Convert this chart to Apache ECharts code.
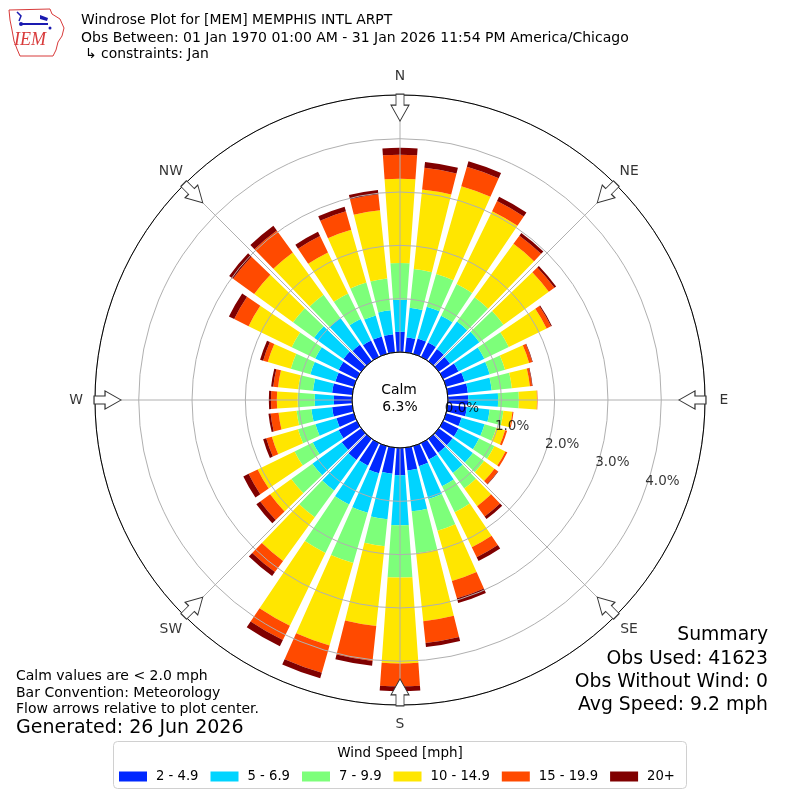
<!DOCTYPE html>
<html><head><meta charset="utf-8">
<script src="https://cdn.jsdelivr.net/npm/echarts@6/dist/echarts.min.js"></script>
<style>html,body{margin:0;padding:0;background:#fff}#c{width:800px;height:800px}</style>
</head><body><div id="c"></div>
<script>
// ---- data ----
const directions = ['0','10','20','30','40','50','60','70','80','90','100','110','120','130','140','150','160','170',
  '180','190','200','210','220','230','240','250','260','270','280','290','300','310','320','330','340','350'];
const speedBins = ['2 - 4.9','5 - 6.9','7 - 9.9','10 - 14.9','15 - 19.9','20+'];
// percent of observations per direction (N, 10°, 20°, ... 350°)
const bin2to4 = [0.38,0.28,0.30,0.30,0.28,0.26,0.32,0.36,0.38,0.38,0.36,0.30,0.32,0.32,0.32,0.34,0.39,0.43,
  0.51,0.49,0.53,0.47,0.49,0.45,0.38,0.34,0.38,0.34,0.38,0.36,0.38,0.41,0.38,0.34,0.34,0.34];
const bin5to6 = [0.60,0.56,0.62,0.56,0.64,0.68,0.54,0.49,0.45,0.56,0.43,0.45,0.43,0.47,0.47,0.56,0.64,0.77,
  0.94,0.86,0.77,0.81,0.71,0.68,0.54,0.41,0.39,0.36,0.36,0.49,0.49,0.68,0.62,0.45,0.41,0.45];
const bin7to9 = [0.69,0.73,0.64,0.66,0.56,0.56,0.51,0.30,0.38,0.39,0.26,0.23,0.32,0.26,0.36,0.54,0.62,0.79,
  0.98,0.51,0.98,1.01,0.62,0.49,0.38,0.34,0.28,0.32,0.28,0.38,0.49,0.49,0.54,0.53,0.64,0.60];
const bin10to14 = [1.58,1.50,1.71,1.52,1.24,1.05,0.79,0.47,0.34,0.34,0.17,0.17,0.23,0.24,0.41,0.73,0.98,1.28,
  1.61,1.50,1.61,1.52,1.01,0.49,0.77,0.51,0.34,0.39,0.38,0.45,0.90,0.90,0.98,0.86,1.03,1.29];
const bin15to19 = [0.45,0.41,0.38,0.21,0.19,0.13,0.09,0.06,0.04,0.01,0.02,0.04,0.04,0.08,0.24,0.21,0.34,0.41,
  0.43,0.66,0.53,0.30,0.26,0.23,0.19,0.11,0.15,0.11,0.09,0.09,0.30,0.49,0.51,0.34,0.36,0.30];
const bin20plus = [0.13,0.11,0.11,0.09,0.06,0.04,0.02,0.01,0.01,0.00,0.00,0.00,0.00,0.01,0.06,0.08,0.09,0.08,
  0.09,0.09,0.11,0.13,0.09,0.09,0.11,0.06,0.04,0.04,0.04,0.06,0.11,0.09,0.11,0.09,0.09,0.08];
const radiusTicks = [0,1,2,3,4];
const compassAngles = [0,45,90,135,180,225,270,315];
const compassNames = ['N','NE','E','SE','S','SW','W','NW'];
const calmPct = '6.3%';
const summaryLines = ['Summary','Obs Used: 41623','Obs Without Wind: 0','Avg Speed: 9.2 mph'];
const noteLines = ['Calm values are < 2.0 mph','Bar Convention: Meteorology','Flow arrows relative to plot center.'];
const generatedText = 'Generated: 26 Jun 2026';
const titleLines = ['Windrose Plot for [MEM] MEMPHIS INTL ARPT',
  'Obs Between: 01 Jan 1970 01:00 AM - 31 Jan 2026 11:54 PM America/Chicago',
  '\u21B3 constraints: Jan'];

// ---- chart ----
const FONT = '"DejaVu Sans"';
const colors = ['#0028ff','#00d4ff','#7dff7a','#ffe600','#ff4a00','#800000'];
const binValues = [bin2to4, bin5to6, bin7to9, bin10to14, bin15to19, bin20plus];
const RMAX = 4.82;
const POLAR_R = [48, 305];
const ARROW = 'path://M-4,0 L4,0 L4,11 L9,11 L0,27 L-9,11 L-4,11 Z';

const chart = echarts.init(document.getElementById('c'), null, {renderer: 'canvas', width: 800, height: 800});

const barSeries = speedBins.map((name, i) => ({
  type: 'bar', name, coordinateSystem: 'polar', polarIndex: 0, stack: 'wind',
  data: binValues[i], barCategoryGap: '20%', itemStyle: {color: colors[i]}, z: 2, silent: true
}));

function txt(text, x, y, size, align, z) {
  return {type: 'text', z: z || 100, silent: true,
    style: {text, x, y, fill: '#000', font: size + 'px ' + FONT, align: align || 'left', verticalAlign: 'middle'}};
}

const graphics = [
  txt(titleLines[0], 81, 20, 13.9),
  txt(titleLines[1], 81, 38, 14),
  txt(titleLines[2], 85, 54, 13.9),
  // logo
  {type: 'polygon', z: 100, silent: true, shape: {points: [[9,10],[50,9],[52,14],[60,19],[64,28],[62,36],[58,42],[56,50],[53,56],[20,56],[17,49],[14,41],[12,30],[10,20]]},
    style: {fill: 'none', stroke: '#d83a3a', lineWidth: 1}},
  {type: 'polyline', z: 100, silent: true, shape: {points: [[17,12],[21,16],[19,21]]}, style: {stroke: '#1a1ab0', lineWidth: 1.5, fill: 'none'}},
  {type: 'line', z: 100, silent: true, shape: {x1: 21, y1: 24, x2: 48, y2: 24}, style: {stroke: '#1a1ab0', lineWidth: 2}},
  {type: 'polygon', z: 100, silent: true, shape: {points: [[40,15],[48,18],[47,21],[40,19]]}, style: {fill: '#1a1ab0'}},
  {type: 'circle', z: 100, silent: true, shape: {cx: 21, cy: 24, r: 2}, style: {fill: '#1a1ab0'}},
  {type: 'circle', z: 100, silent: true, shape: {cx: 50, cy: 28, r: 1.5}, style: {fill: '#1a1ab0'}},
  {type: 'text', z: 100, silent: true, style: {text: 'IEM', x: 30, y: 40, fill: '#d83a3a',
    font: 'italic 18px "Liberation Serif"', align: 'center', verticalAlign: 'middle'}},
  // calm circle
  {type: 'circle', z: 1, silent: true, shape: {cx: 400, cy: 400, r: 48}, style: {fill: '#fff', stroke: '#000', lineWidth: 1}},
  txt('Calm', 399, 390, 13.9, 'center'),
  txt(calmPct, 400, 407, 13.9, 'center'),
  // notes
  txt(noteLines[0], 16, 676, 14),
  txt(noteLines[1], 16, 693, 14),
  txt(noteLines[2], 16, 709, 14),
  txt(generatedText, 16, 728, 19),
  // summary
  txt(summaryLines[0], 768, 635, 18.8, 'right'),
  txt(summaryLines[1], 768, 659, 18.8, 'right'),
  txt(summaryLines[2], 768, 682, 18.8, 'right'),
  txt(summaryLines[3], 768, 705, 18.8, 'right'),
  // legend frame + title
  {type: 'rect', z: 0, silent: true, shape: {x: 113.5, y: 741.5, width: 573, height: 47, r: 4},
    style: {fill: '#fff', stroke: '#d0d0d0', lineWidth: 1}},
  txt('Wind Speed [mph]', 400, 753, 13.5, 'center')
];

const option = {
  animation: false,
  backgroundColor: '#fff',
  textStyle: {fontFamily: 'DejaVu Sans'},
  polar: [
    {center: ['50%', '50%'], radius: POLAR_R},
    {center: ['50%', '50%'], radius: POLAR_R},
    {center: ['50%', '50%'], radius: [0, 324]}
  ],
  angleAxis: [
    {polarIndex: 0, type: 'category', data: directions, startAngle: 95, clockwise: true, show: false},
    {polarIndex: 1, type: 'value', min: 0, max: 360, interval: 45, startAngle: 90, clockwise: true, z: 5,
      axisLine: {show: true, lineStyle: {color: '#000', width: 1}},
      axisTick: {show: false},
      splitLine: {show: true, lineStyle: {color: '#b0b0b0', width: 1}},
      axisLabel: {show: false}},
    {polarIndex: 2, type: 'value', min: 0, max: 360, startAngle: 90, clockwise: true, show: false}
  ],
  radiusAxis: [
    {polarIndex: 0, type: 'value', min: 0, max: RMAX, show: false},
    {polarIndex: 1, type: 'value', min: 0, max: RMAX, interval: 1, z: 4,
      axisLine: {show: false}, axisTick: {show: false}, axisLabel: {show: false},
      splitLine: {show: true, lineStyle: {color: '#b0b0b0', width: 1}}},
    {polarIndex: 2, type: 'value', min: 0, max: 1, show: false}
  ],
  legend: {
    data: speedBins, left: 114, top: 765, icon: 'rect', itemWidth: 28, itemHeight: 10, itemGap: 12, z: 20,
    textStyle: {fontSize: 13.2, color: '#000', fontFamily: 'DejaVu Sans', padding: [0, 0, 0, 4]},
    selectedMode: false
  },
  series: barSeries.concat([
    {type: 'scatter', coordinateSystem: 'polar', polarIndex: 1, z: 10, silent: true, clip: false,
      symbol: ARROW, symbolSize: [18, 27],
      itemStyle: {color: '#fff', borderColor: '#333', borderWidth: 1, opacity: 1},
      data: compassAngles.map(a => ({value: [4.585, a], symbolRotate: -a}))},
    {type: 'scatter', coordinateSystem: 'polar', polarIndex: 1, z: 11, silent: true, clip: false,
      symbolSize: 0.5, itemStyle: {color: '#b0b0b0'},
      data: radiusTicks.map(v => [v, 110]),
      label: {show: true, position: [0, -8], align: 'left', verticalAlign: 'middle',
        textBorderWidth: 0, textBorderColor: 'transparent',
        formatter: p => p.value[0].toFixed(1) + '%', fontSize: 13.5, color: '#000', fontFamily: 'DejaVu Sans'}},
    {type: 'scatter', coordinateSystem: 'polar', polarIndex: 2, z: 11, silent: true, clip: false,
      symbolSize: 0.5, itemStyle: {color: '#fff'},
      data: compassAngles.map((a, i) => ({value: [1, a], name: compassNames[i]})),
      label: {show: true, position: 'inside', align: 'center', verticalAlign: 'middle',
        textBorderWidth: 0, textBorderColor: 'transparent',
        formatter: p => p.name, fontSize: 13.9, color: '#000', fontFamily: 'DejaVu Sans'}}
  ]),
  graphic: graphics
};
chart.setOption(option);
</script></body></html>
